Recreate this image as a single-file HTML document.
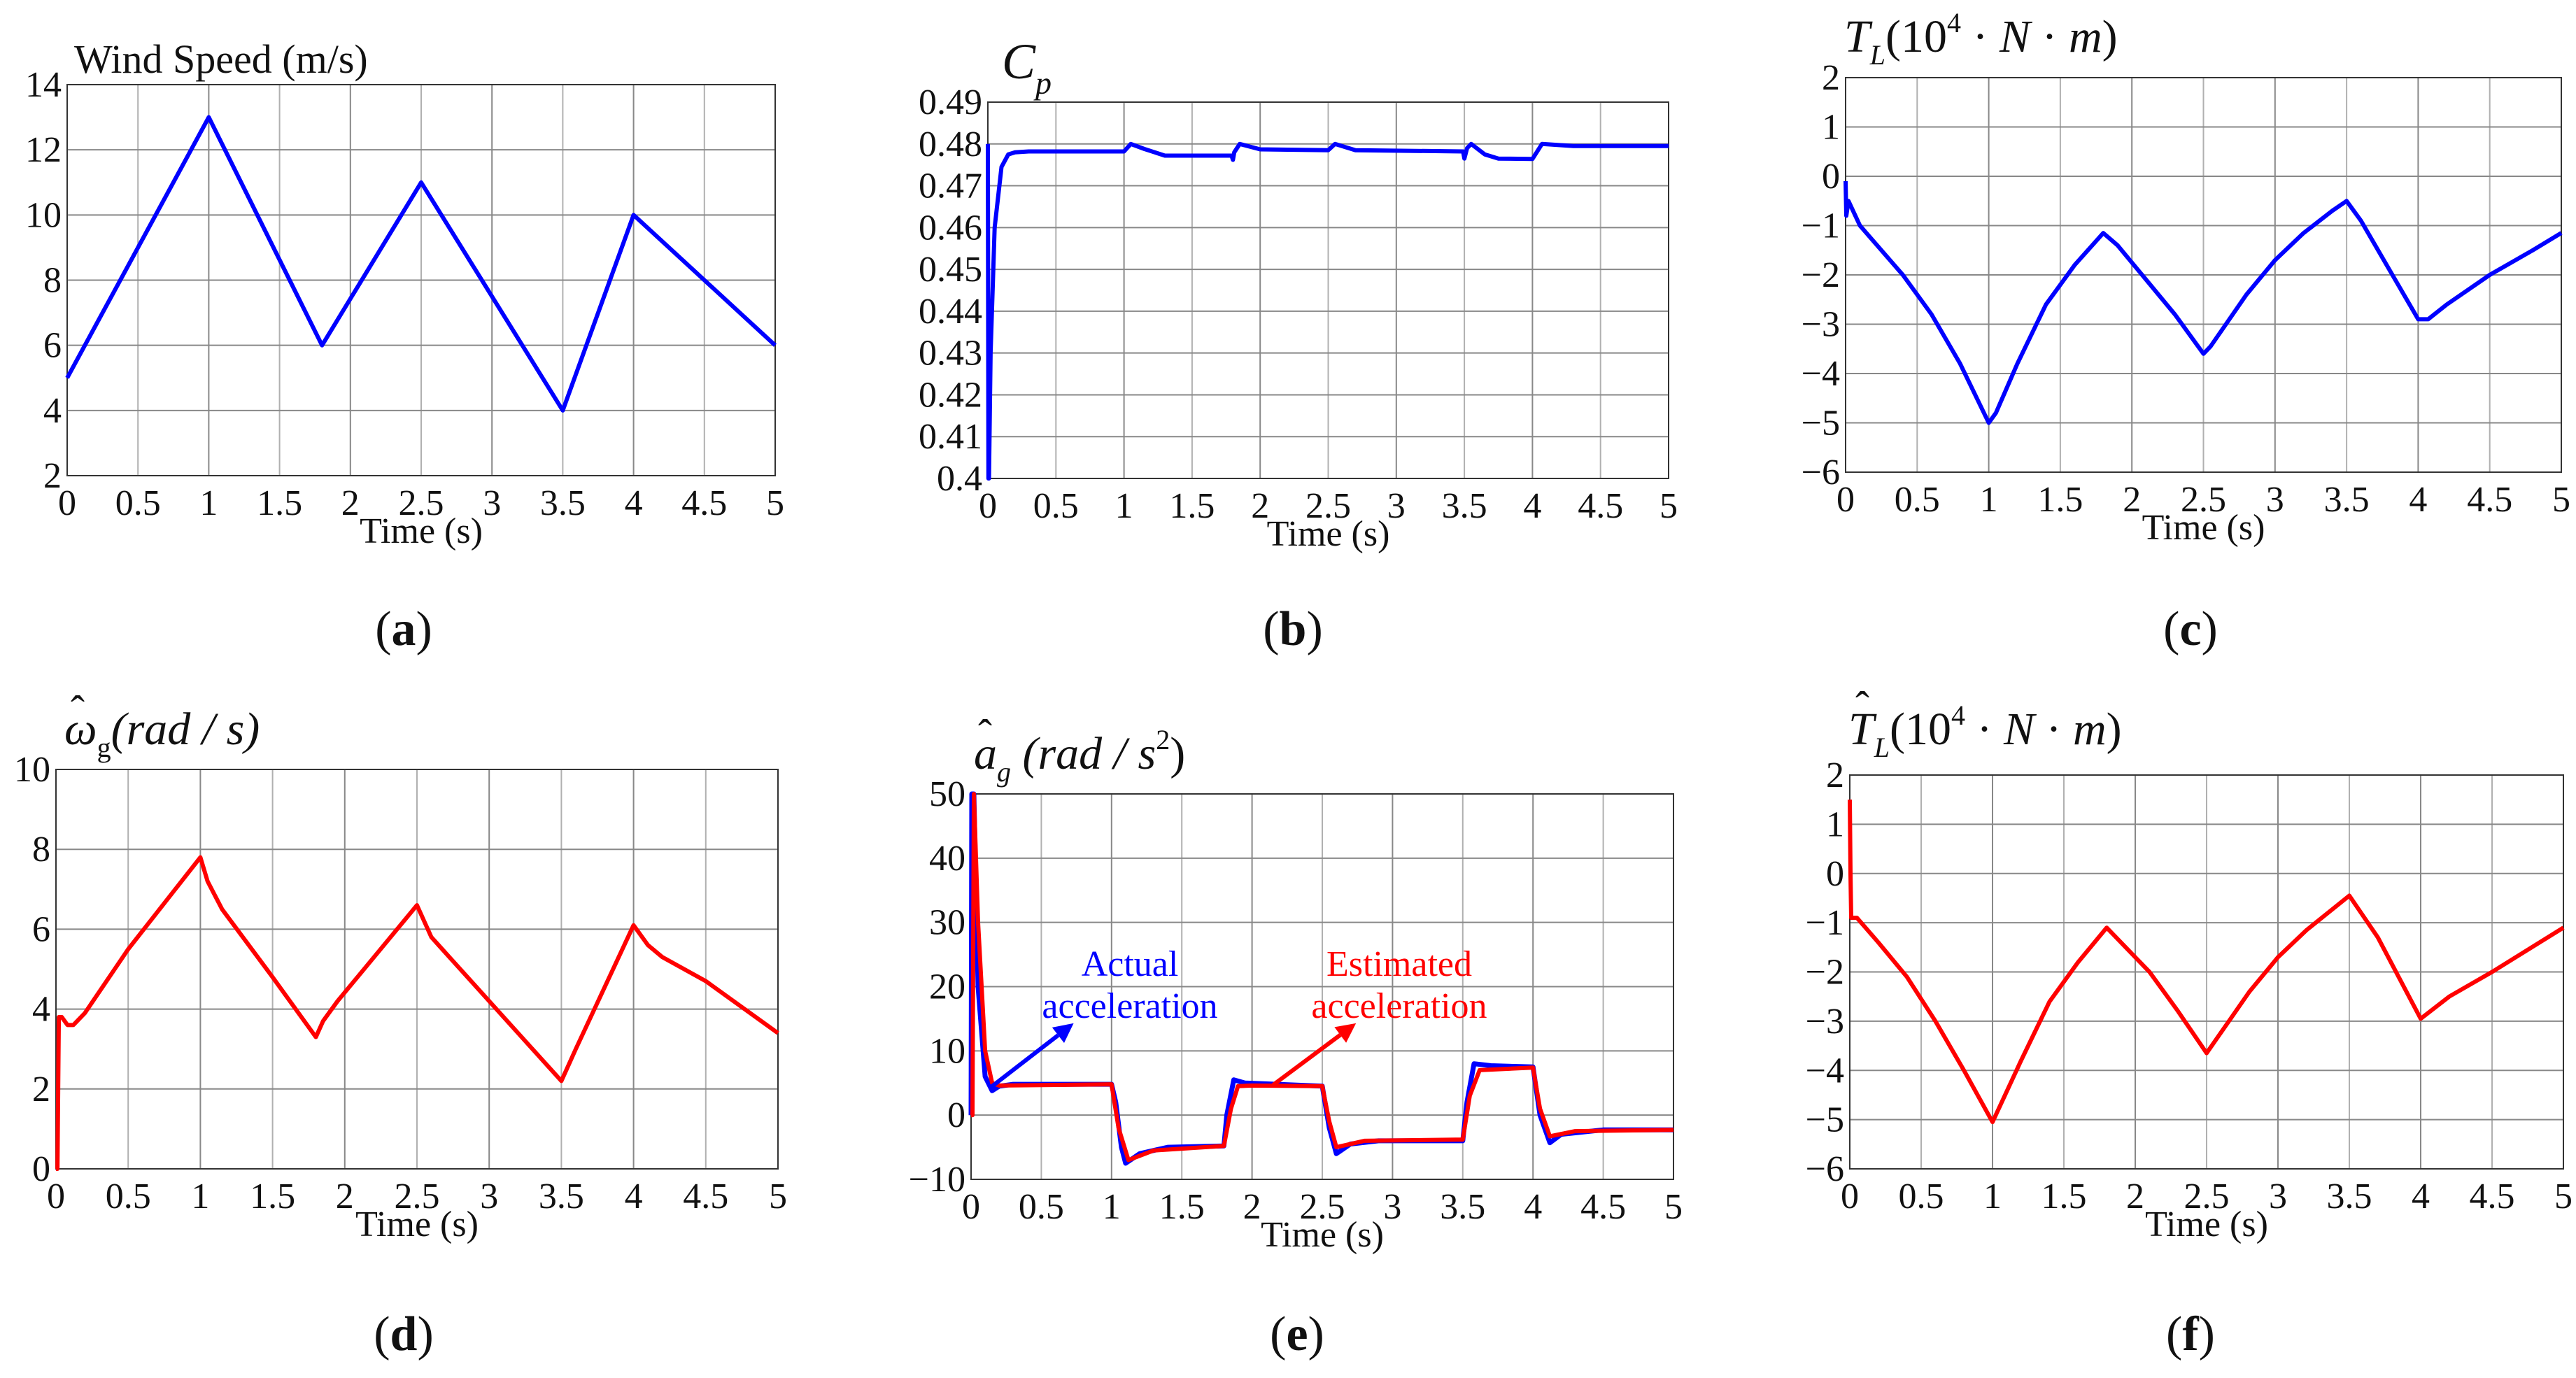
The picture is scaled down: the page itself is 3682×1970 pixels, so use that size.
<!DOCTYPE html>
<html><head><meta charset="utf-8"><style>
html,body{margin:0;padding:0;background:#fff}
svg{display:block}
text{font-family:"Liberation Serif",serif;fill:#111}
</style></head><body>
<svg id="fig" width="3682" height="1970" viewBox="0 0 3682 1970" xmlns="http://www.w3.org/2000/svg"></svg>
<script>
// ---- data ----
const xTicks=[0,0.5,1,1.5,2,2.5,3,3.5,4,4.5,5];
const xTickLabels=["0","0.5","1","1.5","2","2.5","3","3.5","4","4.5","5"];
const aYTicks=[2,4,6,8,10,12,14];
const bYTicks=[0.4,0.41,0.42,0.43,0.44,0.45,0.46,0.47,0.48,0.49];
const bYTickLabels=["0.4","0.41","0.42","0.43","0.44","0.45","0.46","0.47","0.48","0.49"];
const cYTicks=[-6,-5,-4,-3,-2,-1,0,1,2];
const dYTicks=[0,2,4,6,8,10];
const eYTicks=[-10,0,10,20,30,40,50];
const fYTicks=[-6,-5,-4,-3,-2,-1,0,1,2];

const windT=[0,1,1.8,2.5,3.5,4,5];
const windV=[5,13,6,11,4,10,6];
const cpT=[0,0.004,0.008,0.02,0.05,0.1,0.15,0.2,0.3,1.0,1.05,1.15,1.3,1.79,1.8,1.81,1.85,2.0,2.5,2.55,2.7,3.49,3.5,3.52,3.55,3.65,3.75,4.0,4.07,4.3,5.0];
const cpV=[0.48,0.40,0.40,0.43,0.46,0.4745,0.4775,0.478,0.4782,0.4782,0.480,0.4788,0.4772,0.4772,0.4762,0.478,0.480,0.4787,0.4785,0.480,0.4785,0.4782,0.4765,0.479,0.480,0.4775,0.4765,0.4764,0.480,0.4795,0.4795];
const tlT=[0,0.005,0.02,0.1,0.25,0.4,0.6,0.8,1.0,1.05,1.2,1.4,1.6,1.8,1.9,2.1,2.3,2.5,2.55,2.8,3.0,3.2,3.4,3.5,3.6,3.8,4.0,4.07,4.2,4.5,4.8,5.0];
const tlV=[-0.1,-0.8,-0.5,-1.0,-1.5,-2.0,-2.8,-3.8,-5.0,-4.8,-3.8,-2.6,-1.8,-1.15,-1.4,-2.1,-2.8,-3.6,-3.45,-2.4,-1.7,-1.15,-0.7,-0.5,-0.9,-1.9,-2.9,-2.9,-2.6,-2.0,-1.5,-1.15];
const wgT=[0,0.01,0.02,0.04,0.08,0.12,0.2,0.5,1.0,1.05,1.15,1.5,1.8,1.85,1.95,2.5,2.6,2.7,3.5,3.6,4.0,4.1,4.2,4.5,5.0];
const wgV=[0,0,3.8,3.8,3.6,3.6,3.9,5.5,7.8,7.2,6.5,4.8,3.3,3.7,4.2,6.6,5.8,5.4,2.2,3.0,6.1,5.6,5.3,4.7,3.4];
const actT=[0,0.005,0.02,0.05,0.1,0.15,0.2,0.3,1.0,1.03,1.07,1.1,1.2,1.4,1.8,1.82,1.87,1.95,2.5,2.55,2.6,2.7,2.9,3.5,3.53,3.58,3.7,4.0,4.05,4.12,4.2,4.5,5.0];
const actV=[0,50,50,20,6,3.8,4.5,4.8,4.8,2,-5,-7.5,-6,-5,-4.8,0,5.5,5,4.5,-2,-6,-4.5,-4,-4,2,8,7.7,7.5,0,-4.3,-3,-2.3,-2.3];
const estT=[0,0.01,0.02,0.05,0.1,0.15,0.2,1.0,1.05,1.12,1.3,1.8,1.85,1.9,2.0,2.5,2.55,2.6,2.8,3.5,3.55,3.62,4.0,4.05,4.12,4.3,5.0];
const estV=[0,0,50,30,10,5,4.6,4.8,-2,-7,-5.5,-4.8,1,4.5,4.6,4.5,-1,-5,-4,-3.8,3,7,7.4,1,-3.3,-2.5,-2.3];
const tlhT=[0,0.005,0.01,0.05,0.2,0.4,0.6,0.8,1.0,1.2,1.4,1.6,1.8,2.1,2.3,2.5,2.8,3.0,3.2,3.5,3.7,4.0,4.2,4.5,5.0];
const tlhV=[1.5,0,-0.9,-0.9,-1.4,-2.1,-3.0,-4.0,-5.05,-3.8,-2.6,-1.8,-1.1,-2.0,-2.8,-3.65,-2.4,-1.7,-1.15,-0.45,-1.3,-2.95,-2.5,-2.0,-1.1];

// ---- drawing ----
const NS="http://www.w3.org/2000/svg";
const svg=document.getElementById('fig');
function mk(tag,attrs,parent){const e=document.createElementNS(NS,tag);for(const k in attrs)e.setAttribute(k,attrs[k]);(parent||svg).appendChild(e);return e;}
function fmt(v){return v<0?"\u2212"+Math.abs(v):String(v);}

function panel(id,box,ymin,ymax,yticks,ylabels){
  const g=mk('g',{});
  
  
  const sx=t=>box.x0+(t-0)/(5-0)*(box.x1-box.x0);
  const sy=v=>box.y1-(v-ymin)/(ymax-ymin)*(box.y1-box.y0);
  const grid=mk('g',{},g);
  
  
  xTicks.forEach((t,i)=>{
    mk('line',{x1:sx(t),x2:sx(t),y1:box.y0,y2:box.y1,stroke:i%2?'#b0b0b0':'#888',"stroke-width":2},grid);
    const tx=mk('text',{x:sx(t),y:box.y1+56,"font-size":52,"text-anchor":"middle"},g);
    
    
    tx.textContent=xTickLabels[i];
  });
  yticks.forEach((v,i)=>{
    mk('line',{x1:box.x0,x2:box.x1,y1:sy(v),y2:sy(v),stroke:'#888',"stroke-width":2},grid);
    const ty=mk('text',{x:box.x0-8,y:sy(v)+17,"font-size":52,"text-anchor":"end"},g);
    
    
    ty.textContent=ylabels?ylabels[i]:fmt(v);
  });
  const fr=mk('rect',{x:box.x0,y:box.y0,width:box.x1-box.x0,height:box.y1-box.y0,fill:'none',stroke:'#333',"stroke-width":2},g);
  
  
  const xl=mk('text',{x:(box.x0+box.x1)/2,y:box.y1+96,"font-size":52,"text-anchor":"middle"},g);
  
  
  xl.textContent="Time (s)";
  return {g,sx,sy};
}
function series(p,name,T,V,color,w){
  const d=T.map((t,i)=>(i?'L':'M')+p.sx(t).toFixed(1)+','+p.sy(V[i]).toFixed(1)).join('');
  const e=mk('path',{d,fill:'none',stroke:color,"stroke-width":w,"stroke-linejoin":"round"},p.g);
  
  
}
function html(parent,x,y,markup,size,name,anchor){
  const t=mk('text',{x,y,"font-size":size,"text-anchor":anchor||"start"},parent);
  
  
  t.innerHTML=markup;
  return t;
}
function caption(x,y,s){
  const t=mk('text',{x,y,"font-size":70,"text-anchor":"middle"});
  
  
  t.innerHTML='(<tspan font-weight="bold">'+s+'</tspan>)';
}

const pa=panel('wind',{x0:96,x1:1108,y0:121,y1:680},2,14,aYTicks);
series(pa,'wind-speed-line',windT,windV,'#0000ff',6);
html(pa.g,106,104,'Wind Speed (m/s)',58,'wind-y-axis-title');

const pb=panel('cp',{x0:1412,x1:2385,y0:146,y1:684},0.40,0.49,bYTicks,bYTickLabels);
series(pb,'cp-line',cpT,cpV,'#0000ff',6);
html(pb.g,1432,112,'<tspan font-style="italic">C</tspan><tspan font-style="italic" font-size="46" dy="22">p</tspan>',72,'cp-y-axis-title');

const pc=panel('tl',{x0:2638,x1:3661,y0:111,y1:675},-6,2,cYTicks);
series(pc,'load-torque-line',tlT,tlV,'#0000ff',6);
html(pc.g,2636,74,'<tspan font-style="italic">T</tspan><tspan font-style="italic" font-size="40" dy="18">L</tspan><tspan dy="-18">(10</tspan><tspan font-size="40" dy="-28">4</tspan><tspan dy="28"> · </tspan><tspan font-style="italic">N</tspan> · <tspan font-style="italic">m</tspan>)',66,'tl-y-axis-title');

const pd=panel('omega',{x0:80,x1:1112,y0:1100,y1:1671},0,10,dYTicks);
series(pd,'omega-estimate-line',wgT,wgV,'#ff0000',6);
html(pd.g,92,1064,'<tspan font-style="italic">ω</tspan><tspan font-size="40" dy="18">g</tspan><tspan dy="-18" font-style="italic">(rad / s)</tspan>',66,'omega-y-axis-title');
html(pd.g,101,1036,'ˆ',60,'omega-hat');

const pe=panel('accel',{x0:1388,x1:2392,y0:1135,y1:1686},-10,50,eYTicks);
series(pe,'actual-acceleration-line',actT,actV,'#0000ff',7);
series(pe,'estimated-acceleration-line',estT,estV,'#ff0000',6);
html(pe.g,1392,1099,'<tspan font-style="italic">a</tspan><tspan font-style="italic" font-size="40" dy="18">g</tspan><tspan dy="-18" font-style="italic"> (rad / s</tspan><tspan font-size="40" dy="-28">2</tspan><tspan dy="28">)</tspan>',66,'accel-y-axis-title');
html(pe.g,1398,1070,'ˆ',60,'accel-hat');
// arrows
const arrowFrom=[[0.15,4.5],[2.15,4.7]];
const arrowTo=[[0.73,14.3],[2.74,14.3]];
const arrowCol=['#0000ff','#ff0000'];
const arrowNames=['actual-annotation-arrow','estimated-annotation-arrow'];
arrowFrom.forEach((f,i)=>{
  const x1=pe.sx(f[0]),y1=pe.sy(f[1]),x2=pe.sx(arrowTo[i][0]),y2=pe.sy(arrowTo[i][1]);
  const a=Math.atan2(y2-y1,x2-x1),L=28,W=14;
  const bx=x2-L*Math.cos(a),by=y2-L*Math.sin(a);
  const g=mk('g',{},pe.g);
  
  
  mk('line',{x1,y1,x2:bx,y2:by,stroke:arrowCol[i],"stroke-width":6},g);
  mk('polygon',{points:`${x2},${y2} ${bx-W*Math.sin(a)},${by+W*Math.cos(a)} ${bx+W*Math.sin(a)},${by-W*Math.cos(a)}`,fill:arrowCol[i]},g);
});
html(pe.g,1615,1395,'<tspan fill="#0000ff">Actual</tspan>',52,'actual-label','middle');
html(pe.g,1615,1455,'<tspan fill="#0000ff">acceleration</tspan>',52,'actual-label-2','middle');
html(pe.g,2000,1395,'<tspan fill="#ff0000">Estimated</tspan>',52,'estimated-label','middle');
html(pe.g,2000,1455,'<tspan fill="#ff0000">acceleration</tspan>',52,'estimated-label-2','middle');

const pf=panel('tlhat',{x0:2644,x1:3664,y0:1108,y1:1671},-6,2,fYTicks);
series(pf,'load-torque-estimate-line',tlhT,tlhV,'#ff0000',6);
html(pf.g,2642,1064,'<tspan font-style="italic">T</tspan><tspan font-style="italic" font-size="40" dy="18">L</tspan><tspan dy="-18">(10</tspan><tspan font-size="40" dy="-28">4</tspan><tspan dy="28"> · </tspan><tspan font-style="italic">N</tspan> · <tspan font-style="italic">m</tspan>)',66,'tlhat-y-axis-title');
html(pf.g,2652,1030,'ˆ',60,'tlhat-hat');

caption(577,922,'a');caption(1848,922,'b');caption(3131,922,'c');
caption(577,1930,'d');caption(1854,1930,'e');caption(3131,1930,'f');
</script>
</body></html>
